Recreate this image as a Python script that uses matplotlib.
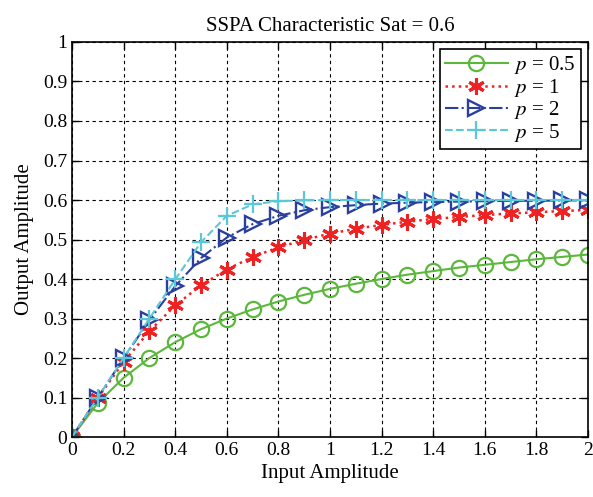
import numpy as np
import matplotlib.pyplot as plt

plt.rcParams['font.family'] = ['Liberation Serif', 'DejaVu Serif']
plt.rcParams['mathtext.fontset'] = 'stix'

x = [0.0, 0.1, 0.2, 0.3, 0.4, 0.5, 0.6, 0.7, 0.8, 0.9, 1.0,
     1.1, 1.2, 1.3, 1.4, 1.5, 1.6, 1.7, 1.8, 1.9, 2.0]

y_p05 = [0.0, 0.086, 0.150, 0.200, 0.240, 0.273, 0.300, 0.323, 0.343, 0.360, 0.375,
         0.388, 0.400, 0.411, 0.420, 0.429, 0.436, 0.443, 0.450, 0.456, 0.462]
y_p1 = [0.0, 0.099, 0.190, 0.268, 0.333, 0.384, 0.424, 0.456, 0.480, 0.499, 0.515,
        0.527, 0.537, 0.545, 0.552, 0.557, 0.562, 0.566, 0.569, 0.572, 0.575]
y_p2 = [0.0, 0.100, 0.199, 0.296, 0.382, 0.453, 0.505, 0.539, 0.560, 0.574, 0.582,
        0.587, 0.591, 0.593, 0.595, 0.596, 0.597, 0.598, 0.598, 0.599, 0.599]
y_p5 = [0.0, 0.100, 0.200, 0.300, 0.399, 0.493, 0.560, 0.589, 0.597, 0.599, 0.600,
        0.600, 0.600, 0.600, 0.600, 0.600, 0.600, 0.600, 0.600, 0.600, 0.600]

fig = plt.figure(figsize=(5.93, 4.97), dpi=100)
ax = fig.add_axes([0.1214, 0.1207, 0.8702, 0.7948])

ax.plot(x, y_p05, '-', color='#5cb83c', marker='o', markersize=11, mfc='none',
        mew=1.6, lw=1.5, label='$p$ = 0.5')
ax.plot(x, y_p1, ':', color='#ee2222', marker=(6, 2, 0), markersize=12,
        mew=2.2, lw=1.8, label='$p$ = 1')
ax.plot(x, y_p2, '-.', color='#2a3fa0', marker='>', markersize=11, mfc='none',
        mew=1.7, lw=1.5, label='$p$ = 2')
ax.plot(x, y_p5, '--', color='#5bc8d8', marker='+', markersize=13,
        mew=1.6, lw=1.5, label='$p$ = 5')

ax.set_xlim(0, 2)
ax.set_ylim(0, 1)
ax.set_xticks(np.arange(0, 2.01, 0.2))
ax.set_xticklabels(['0', '0.2', '0.4', '0.6', '0.8', '1', '1.2', '1.4', '1.6', '1.8', '2'])
ax.set_yticks(np.arange(0, 1.01, 0.1))
ax.set_yticklabels(['0', '0.1', '0.2', '0.3', '0.4', '0.5', '0.6', '0.7', '0.8', '0.9', '1'])
ax.tick_params(direction='in', labelsize=14, length=5, width=1, top=True, right=True)
ax.grid(True, color='black', linestyle=(0, (3, 3)), linewidth=0.8)
for s in ax.spines.values():
    s.set_linewidth(1.2)

ax.set_title('SSPA Characteristic Sat = 0.6', fontsize=15, pad=8)
ax.set_xlabel('Input Amplitude', fontsize=15, labelpad=4)
ax.set_ylabel('Output Amplitude', fontsize=15, labelpad=6)

leg = ax.legend(loc='upper right', fontsize=15, fancybox=False, framealpha=1,
                edgecolor='black', handlelength=3.0, borderpad=0.25,
                labelspacing=0.02, handletextpad=0.3, borderaxespad=0.35)
leg.get_frame().set_linewidth(1.2)

fig.savefig('out.png', dpi=100)
